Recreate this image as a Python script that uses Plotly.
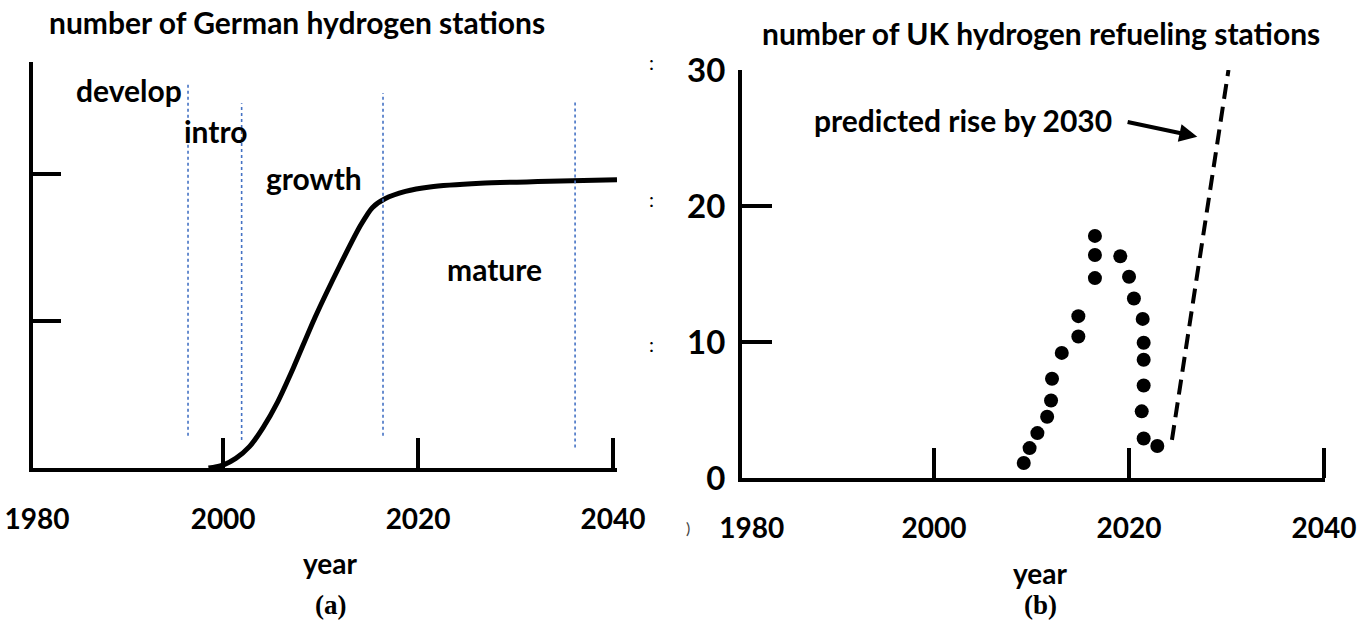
import plotly.graph_objects as go

# ---------------- data ----------------
# (a) German hydrogen stations: life-cycle S-curve (arbitrary units)
GER_YEARS = [1998.5, 1999.2, 2000.0, 2001.3, 2002.7, 2004.1, 2005.6, 2007.2, 2009.4,
             2012.0, 2014.1, 2015.3, 2016.6, 2018.7, 2021.2, 2026.4, 2033.5, 2040.4]
GER_VALUES = [0.0, 0.07, 0.2, 0.65, 1.45, 2.75, 4.5, 6.8, 10.2,
              13.8, 16.5, 17.7, 18.3, 18.8, 19.1, 19.35, 19.5, 19.6]
GER_Y_TICKS = [10, 20]
PHASE_YEARS = [1996.4, 2001.9, 2016.4, 2036.1]
PHASE_TOP = [26.2, 24.8, 25.5, 25.0]
PHASE_BOTTOM = [2.2, 1.9, 2.2, 1.4]
PHASE_LABELS = ["develop", "intro", "growth", "mature"]
PHASE_LABEL_YEARS = [1990.3, 1999.2, 2009.3, 2027.8]
PHASE_LABEL_VALUES = [25.7, 22.9, 19.7, 13.5]

# (b) UK hydrogen refuelling stations
UK_YEARS = [2009.2, 2009.8, 2010.6, 2011.6, 2012.0, 2012.1, 2013.1, 2014.8, 2014.8,
            2016.5, 2016.5, 2016.5, 2019.1, 2020.0, 2020.5, 2021.4, 2021.5, 2021.5,
            2021.5, 2021.3, 2021.5, 2022.9]
UK_COUNTS = [1.1, 2.2, 3.3, 4.5, 5.7, 7.3, 9.2, 10.4, 11.9,
             14.7, 16.4, 17.8, 16.3, 14.8, 13.2, 11.7, 9.95, 8.7,
             6.8, 4.9, 2.9, 2.35]
PRED_YEARS = [2024.4, 2030.2]
PRED_COUNTS = [2.8, 30.0]
UK_Y_TICKS = [0, 10, 20, 30]

X_TICK_YEARS = [1980, 2000, 2020, 2040]
X_TICK_TEXT = ["1980", "2000", "2020", "2040"]

# ---------------- figure ----------------
W, H = 1370, 624
FONT = "Lato"
BLACK = "#000000"
TXT = 30

fig = go.Figure()

# German curve
fig.add_trace(go.Scatter(x=GER_YEARS, y=GER_VALUES, mode="lines",
                         line=dict(color=BLACK, width=5, shape="spline", smoothing=0.6),
                         xaxis="x", yaxis="y", hoverinfo="skip"))

# UK observed counts
fig.add_trace(go.Scatter(x=UK_YEARS, y=UK_COUNTS, mode="markers",
                         marker=dict(color=BLACK, size=14, line=dict(width=0)),
                         xaxis="x2", yaxis="y2", hoverinfo="skip"))
# UK predicted rise
fig.add_trace(go.Scatter(x=PRED_YEARS, y=PRED_COUNTS, mode="lines",
                         line=dict(color=BLACK, width=4, dash="15px,8px"),
                         xaxis="x2", yaxis="y2", hoverinfo="skip"))

# phase separators (blue dotted)
shapes = []
for yr, top, bot in zip(PHASE_YEARS, PHASE_TOP, PHASE_BOTTOM):
    shapes.append(dict(type="line", xref="x", yref="y", x0=yr, x1=yr, y0=bot, y1=top,
                       line=dict(color="#4472C4", width=1.6, dash="3px,3px")))


def paper_text(text, px, py, size=TXT, family=FONT, color=BLACK):
    return dict(text=text, x=px / W, y=1 - py / H, xref="paper", yref="paper",
                xanchor="center", yanchor="middle", showarrow=False,
                font=dict(family=family, size=size, color=color))


annotations = []
for lab, xx, yy in zip(PHASE_LABELS, PHASE_LABEL_YEARS, PHASE_LABEL_VALUES):
    annotations.append(dict(text="<b>%s</b>" % lab, x=xx, y=yy, xref="x", yref="y",
                            xanchor="center", yanchor="middle", showarrow=False,
                            font=dict(family=FONT, size=TXT, color=BLACK)))

annotations += [
    paper_text("<b>number of German hydrogen stations</b>", 297, 22),
    paper_text("<b>number of UK hydrogen refueling stations</b>", 1041, 33),
    paper_text("<b>year</b>", 330, 563, size=28),
    paper_text("<b>year</b>", 1040, 573, size=28),
    paper_text("<b>(a)</b>", 330, 605, size=27, family="Liberation Serif"),
    paper_text("<b>(b)</b>", 1040, 605, size=27, family="Liberation Serif"),
    dict(text="<b>predicted rise by 2030</b>", x=2003.0, y=26.3, xref="x2", yref="y2",
         xanchor="center", yanchor="middle", showarrow=False,
         font=dict(family=FONT, size=TXT, color=BLACK)),
    dict(text="", x=2027.0, y=25.1, ax=2019.7, ay=26.2, xref="x2", yref="y2",
         axref="x2", ayref="y2", showarrow=True, arrowhead=2, arrowsize=0.9,
         arrowwidth=4, arrowcolor=BLACK),
]
# faint cropping remnants at the panel borders
for yy in [62, 199, 344]:
    annotations.append(paper_text(":", 651, yy, size=20))
annotations.append(paper_text(")", 688, 527, size=16, color="#444444"))

axis_common = dict(showgrid=False, zeroline=False, showline=True, linecolor=BLACK,
                   linewidth=4, fixedrange=True, automargin=False)

fig.update_layout(
    template="none",
    width=W, height=H, autosize=False,
    margin=dict(l=0, r=0, t=0, b=0, pad=0, autoexpand=False),
    paper_bgcolor="white", plot_bgcolor="white",
    showlegend=False,
    shapes=shapes, annotations=annotations,
    xaxis=dict(domain=[33 / W, 617 / W], range=[1980.5, 2040.4], anchor="y",
               tickmode="array", tickvals=[X_TICK_YEARS[0] + 0.9] + X_TICK_YEARS[1:],
               ticktext=X_TICK_TEXT, ticks="",
               minor=dict(tickmode="array", tickvals=X_TICK_YEARS[1:], ticks="inside",
                          ticklen=30, tickwidth=4, tickcolor=BLACK, showgrid=False),
               tickfont=dict(family=FONT, size=28, color=BLACK, weight="bold"),
               ticklabelstandoff=23, **axis_common),
    yaxis=dict(domain=[1 - 468 / H, 1 - 62 / H], range=[0, 27.6], anchor="x",
               tickmode="array", tickvals=GER_Y_TICKS, ticks="inside", ticklen=28,
               tickwidth=4, tickcolor=BLACK, showticklabels=False, **axis_common),
    xaxis2=dict(domain=[742 / W, 1325 / W], range=[1980.3, 2040.1], anchor="y2",
                tickmode="array", tickvals=[X_TICK_YEARS[0] + 1.3] + X_TICK_YEARS[1:],
                ticktext=X_TICK_TEXT, ticks="",
                minor=dict(tickmode="array", tickvals=X_TICK_YEARS[1:], ticks="inside",
                           ticklen=30, tickwidth=4, tickcolor=BLACK, showgrid=False),
                tickfont=dict(family=FONT, size=28, color=BLACK, weight="bold"),
                ticklabelstandoff=22, **axis_common),
    yaxis2=dict(domain=[1 - 478 / H, 1 - 70 / H], range=[0, 30], anchor="x2",
                tickmode="array", tickvals=UK_Y_TICKS, ticks="inside", ticklen=30,
                tickwidth=4, tickcolor=BLACK,
                tickfont=dict(family=FONT, size=33, color=BLACK, weight="bold"),
                ticklabelstandoff=6, **axis_common),
)

fig.write_html("out.html", config=dict(displayModeBar=False),
               post_script="document.body.style.margin='0px';")
